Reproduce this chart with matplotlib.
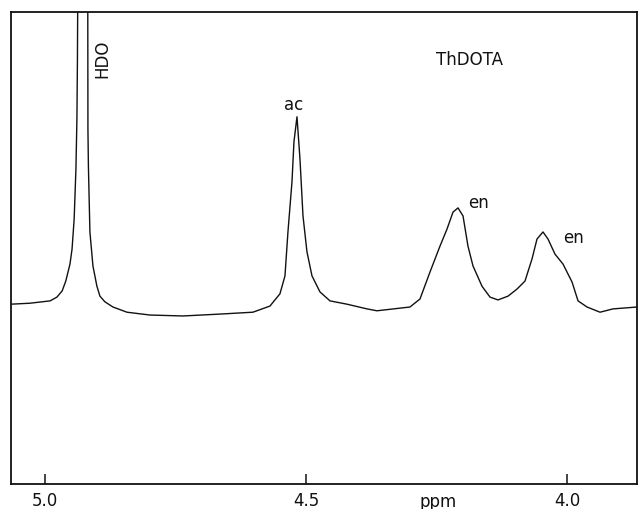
#!/usr/bin/env python3
import numpy as np
import matplotlib
matplotlib.use('Agg')
import matplotlib.pyplot as plt
import matplotlib.transforms as mtransforms

# Trace: chemical shift (ppm) and intensity (arb., 0-100 = frame)
shift_ppm = [5.065, 5.029, 4.990, 4.977, 4.967, 4.960, 4.952, 4.948, 4.944, 4.9406,
             4.9387, 4.9377, 4.9368, 4.9339, 4.9272, 4.9205, 4.9180, 4.9176, 4.9167,
             4.9138, 4.9080, 4.9004, 4.8946, 4.8851, 4.8697, 4.8429, 4.7989, 4.7356,
             4.6648, 4.6015, 4.5690, 4.5498, 4.5402, 4.5345, 4.5268, 4.5230, 4.5172,
             4.5115, 4.5057, 4.4981, 4.4885, 4.4732, 4.4540, 4.4215, 4.3831, 4.3640,
             4.3008, 4.2816, 4.2625, 4.2433, 4.2299, 4.2184, 4.2088, 4.1992, 4.1897,
             4.1801, 4.1628, 4.1475, 4.1322, 4.1130, 4.0958, 4.0805, 4.0670, 4.0575,
             4.0460, 4.0364, 4.0230, 4.0077, 3.9904, 3.9789, 3.9617, 3.9368, 3.9119,
             3.8659]
intensity = [38.1, 38.3, 38.8, 39.6, 40.9, 43.0, 46.6, 49.8, 56.1, 66.7,
             77.3, 90.0, 110.0, 200.0, 420.0, 200.0, 110.0, 75.2, 67.4,
             53.4, 46.2, 41.9, 39.8, 38.6, 37.5, 36.4, 35.8, 35.6,
             36.0, 36.4, 37.7, 40.3, 44.1, 53.4, 64.0, 72.5, 77.8,
             68.9, 56.8, 49.2, 44.1, 40.7, 38.8, 38.1, 37.1, 36.7,
             37.5, 39.2, 44.9, 50.4, 54.0, 57.6, 58.5, 56.8, 50.4,
             46.2, 41.9, 39.6, 39.0, 39.8, 41.3, 43.0, 47.7, 51.9,
             53.4, 51.9, 48.7, 46.6, 42.8, 38.8, 37.5, 36.4, 37.1,
             37.5]

tick_ppm = [5.0, 4.5, 4.0]
tick_labels = ['5.0', '4.5', '4.0']

# peak labels: (text, ppm, intensity, rotation)
peak_labels = [('HDO', 4.889, 90.3, 90),
               ('ThDOTA', 4.186, 90.0, 0),
               ('ac', 4.523, 80.5, 0),
               ('en', 4.170, 59.7, 0),
               ('en', 3.987, 52.3, 0)]

fig = plt.figure(figsize=(6.38, 5.10), dpi=100)
ax = fig.add_axes([0.0172, 0.049, 0.9812, 0.9255])

ax.plot(shift_ppm, intensity, color='#111111', lw=1.0)

ax.set_xlim(5.065, 3.866)
ax.set_ylim(0, 100)

for s in ax.spines.values():
    s.set_linewidth(1.3)
    s.set_color('#111111')

ax.set_yticks([])
ax.set_xticks(tick_ppm)
ax.set_xticklabels(tick_labels, fontsize=12)
ax.tick_params(axis='x', direction='in', length=7, width=1.1, pad=5, colors='#111111')

for txt, x, y, rot in peak_labels:
    ax.text(x, y, txt, fontsize=12, rotation=rot, ha='center', va='center', color='#111111')

trans = mtransforms.blended_transform_factory(ax.transData, ax.transAxes)
ax.text(4.247, -0.036, 'ppm', transform=trans, fontsize=12, ha='center', va='center',
        color='#111111')

plt.savefig('out.png', dpi=100)
plt.close()
